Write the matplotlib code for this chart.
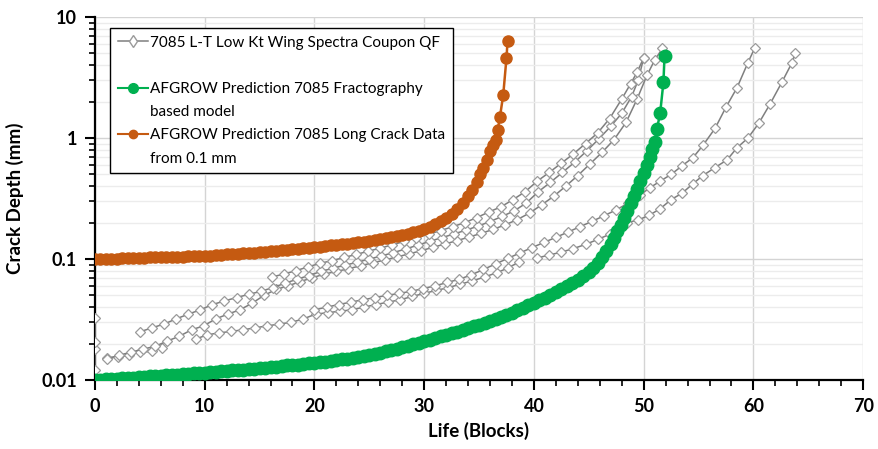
import matplotlib
matplotlib.use("Agg")
import matplotlib.pyplot as plt
from matplotlib.lines import Line2D
from matplotlib.ticker import MultipleLocator, LogLocator, FixedLocator, NullFormatter

plt.rcParams['font.family'] = ['Lato', 'DejaVu Sans']

# ---- coupon test data (QF), one list per coupon trace ----
cA_x = [4.1, 5.2, 6.3, 7.4, 8.5, 9.6, 10.7, 11.8, 12.9, 14.0, 15.1, 16.2, 17.3, 18.4, 19.5, 20.6,
        21.7, 22.8, 23.9, 25.0, 26.1, 27.2, 28.3, 29.4, 30.5, 31.6, 32.7, 33.8, 34.9, 36.0, 37.1,
        38.2, 39.3, 40.4, 41.5, 42.6, 43.7, 44.8, 45.9, 47.0, 48.0, 48.9, 49.5, 50.0]
cA_y = [0.025, 0.027, 0.029, 0.032, 0.035, 0.038, 0.042, 0.045, 0.048, 0.051, 0.054, 0.058, 0.063,
        0.068, 0.073, 0.079, 0.084, 0.089, 0.094, 0.100, 0.106, 0.113, 0.121, 0.130, 0.140, 0.150,
        0.161, 0.173, 0.187, 0.204, 0.225, 0.25, 0.29, 0.36, 0.43, 0.52, 0.63, 0.78, 0.98, 1.25,
        1.6, 2.2, 3.0, 4.6]

cB_x = [1.1, 2.2, 3.3, 4.4, 5.5, 6.6, 7.7, 8.8, 9.9, 11.0, 12.1, 13.2, 14.3, 15.4, 16.5, 17.6, 18.7,
        19.8, 20.9, 22.0, 23.1, 24.2, 25.3, 26.4, 27.5, 28.6, 29.7, 30.8, 31.9, 33.0, 34.1, 35.2,
        36.3, 37.4, 38.5, 39.6, 40.7, 41.8, 42.9, 44.0, 45.1, 46.2, 47.3, 48.4, 49.4, 50.3, 51.0, 51.7]
cB_y = [0.015, 0.016, 0.017, 0.018, 0.019, 0.021, 0.023, 0.026, 0.028, 0.032, 0.035, 0.038, 0.043,
        0.050, 0.056, 0.060, 0.065, 0.070, 0.075, 0.079, 0.083, 0.088, 0.093, 0.098, 0.104, 0.110,
        0.117, 0.125, 0.133, 0.142, 0.152, 0.163, 0.176, 0.192, 0.212, 0.24, 0.28, 0.33, 0.40, 0.49,
        0.61, 0.76, 0.97, 1.35, 2.1, 3.3, 4.4, 5.5]

cC_x = [16.1, 17.2, 18.3, 19.4, 20.5, 21.6, 22.7, 23.8, 24.9, 26.0, 27.1, 28.2, 29.3, 30.4, 31.5,
        32.6, 33.7, 34.8, 35.9, 37.0, 38.1, 39.2, 40.3, 41.4, 42.5, 43.6, 44.7, 45.8, 46.9, 48.0,
        48.8, 49.4, 50.0]
cC_y = [0.071, 0.075, 0.080, 0.086, 0.092, 0.097, 0.103, 0.109, 0.116, 0.123, 0.131, 0.140, 0.150,
        0.160, 0.172, 0.185, 0.20, 0.22, 0.245, 0.27, 0.31, 0.36, 0.44, 0.52, 0.62, 0.74, 0.90,
        1.10, 1.45, 2.1, 2.8, 3.5, 4.6]

cD_x = [1.1, 2.1, 3.1, 4.1, 5.2, 6.1]
cD_y = [0.0152, 0.0155, 0.016, 0.017, 0.0172, 0.0184]

cE_x = [9.2, 10.2, 11.3, 12.4, 13.5, 14.6, 15.7, 16.8, 17.9, 19.0, 20.1, 21.2, 22.3, 23.4, 24.5,
        25.6, 26.7, 27.8, 28.9, 30.0, 31.1, 32.2, 33.3, 34.4, 35.5, 36.6, 37.6, 38.6]
cE_y = [0.0218, 0.0236, 0.0245, 0.0252, 0.026, 0.027, 0.028, 0.029, 0.030, 0.032, 0.035, 0.036,
        0.037, 0.038, 0.040, 0.042, 0.044, 0.046, 0.049, 0.052, 0.055, 0.058, 0.062, 0.066, 0.071,
        0.077, 0.084, 0.094]

cF_x = [20.0, 21.1, 22.2, 23.3, 24.4, 25.5, 26.6, 27.7, 28.8, 29.9, 31.0, 32.1, 33.2, 34.3, 35.4,
        36.5, 37.6, 38.7, 39.8, 40.9, 42.0, 43.1, 44.2, 45.3, 46.4, 47.5, 48.6, 49.7, 50.6, 51.5,
        52.5, 53.5, 54.5, 55.4, 56.5, 57.5, 58.5, 59.5, 60.1]
cF_y = [0.038, 0.040, 0.042, 0.044, 0.046, 0.048, 0.050, 0.052, 0.054, 0.057, 0.060, 0.064, 0.068,
        0.074, 0.082, 0.091, 0.101, 0.112, 0.124, 0.137, 0.151, 0.167, 0.185, 0.205, 0.228, 0.255,
        0.29, 0.34, 0.39, 0.44, 0.50, 0.59, 0.69, 0.87, 1.2, 1.8, 2.6, 4.2, 5.5]

cG_x = [40.3, 41.4, 42.5, 43.6, 44.7, 45.8, 46.9]
cG_y = [0.102, 0.108, 0.114, 0.122, 0.132, 0.145, 0.16]

cH_x = [48.5, 49.5, 50.5, 51.5, 52.5, 53.5, 54.5, 55.4, 56.5, 57.6, 58.5, 59.5, 60.5, 61.5, 62.6,
        63.5, 63.8]
cH_y = [0.20, 0.21, 0.23, 0.26, 0.31, 0.35, 0.42, 0.49, 0.57, 0.66, 0.83, 1.0, 1.33, 1.9, 2.9,
        4.17, 5.0]

c0_x = [0, 0, 0, 0]
c0_y = [0.012, 0.018, 0.0206, 0.0325]

coupons = [(c0_x, c0_y), (cD_x, cD_y), (cB_x, cB_y), (cA_x, cA_y), (cC_x, cC_y),
           (cE_x, cE_y), (cF_x, cF_y), (cG_x, cG_y), (cH_x, cH_y)]

# ---- AFGROW prediction, fractography based model ----
frac_x = [0.0, 0.5, 1.0, 1.5, 2.0, 2.5, 3.0, 3.5, 4.0, 4.5, 5.0, 5.5, 6.0, 6.5, 7.0, 7.5, 8.0, 8.5,
          9.0, 9.5, 10.0, 10.5, 11.0, 11.5, 12.0, 12.5, 13.0, 13.5, 14.0, 14.5, 15.0, 15.5, 16.0,
          16.5, 17.0, 17.5, 18.0, 18.5, 19.0, 19.5, 20.0, 20.5, 21.0, 21.5, 22.0, 22.5, 23.0, 23.5,
          24.0, 24.5, 25.0, 25.5, 26.0, 26.5, 27.0, 27.5, 28.0, 28.5, 29.0, 29.5, 30.0, 30.5, 31.0,
          31.5, 32.0, 32.5, 33.0, 33.5, 34.0, 34.5, 35.0, 35.5, 36.0, 36.5, 37.0, 37.5, 38.0, 38.5,
          39.0, 39.5, 40.0, 40.5, 41.0, 41.5, 42.0, 42.5, 43.0, 43.5, 44.0, 44.5, 45.0, 45.4, 45.8,
          46.2, 46.6, 47.0, 47.3, 47.6, 47.9, 48.2, 48.5, 48.8, 49.1, 49.4, 49.7, 50.0, 50.3, 50.6,
          50.8, 51.0, 51.2, 51.5, 51.8, 51.9]
frac_y = [0.0100, 0.0100, 0.0101, 0.0102, 0.0102, 0.0103, 0.0104, 0.0104, 0.0105, 0.0106, 0.0107,
          0.0107, 0.0108, 0.0109, 0.0110, 0.0111, 0.0112, 0.0113, 0.0114, 0.0114, 0.0115, 0.0116,
          0.0117, 0.0118, 0.0119, 0.0120, 0.0121, 0.0122, 0.0123, 0.0124, 0.0125, 0.0126, 0.0128,
          0.0129, 0.0130, 0.0132, 0.0133, 0.0134, 0.0136, 0.0137, 0.0138, 0.0140, 0.0142, 0.0144,
          0.0146, 0.0148, 0.0150, 0.0153, 0.0155, 0.0158, 0.0160, 0.0164, 0.0168, 0.0172, 0.0177,
          0.0182, 0.0187, 0.0192, 0.0198, 0.0204, 0.0210, 0.0216, 0.0223, 0.0230, 0.0236, 0.0243,
          0.0250, 0.0259, 0.0268, 0.0277, 0.0286, 0.0295, 0.0305, 0.0318, 0.0331, 0.0345, 0.0360,
          0.0378, 0.0396, 0.0415, 0.0435, 0.0457, 0.0480, 0.0505, 0.0532, 0.0562, 0.0595, 0.0632,
          0.0672, 0.0720, 0.0780, 0.0850, 0.0930, 0.103, 0.116, 0.132, 0.150, 0.170, 0.192, 0.218,
          0.25, 0.29, 0.33, 0.38, 0.44, 0.51, 0.60, 0.70, 0.81, 0.93, 1.18, 1.6, 2.9, 4.75]

# ---- AFGROW prediction, long crack data from 0.1 mm ----
long_x = [0.0, 0.5, 1.0, 1.5, 2.0, 2.5, 3.0, 3.5, 4.0, 4.5, 5.0, 5.5, 6.0, 6.5, 7.0, 7.5, 8.0, 8.5,
          9.0, 9.5, 10.0, 10.5, 11.0, 11.5, 12.0, 12.5, 13.0, 13.5, 14.0, 14.5, 15.0, 15.5, 16.0,
          16.5, 17.0, 17.5, 18.0, 18.5, 19.0, 19.5, 20.0, 20.5, 21.0, 21.5, 22.0, 22.5, 23.0, 23.5,
          24.0, 24.5, 25.0, 25.5, 26.0, 26.5, 27.0, 27.5, 28.0, 28.5, 29.0, 29.5, 30.0, 30.5, 31.0,
          31.5, 32.0, 32.5, 33.0, 33.5, 34.0, 34.4, 34.8, 35.1, 35.4, 35.7, 36.0, 36.3, 36.5, 36.7,
          36.9, 37.2, 37.5, 37.6]
long_y = [0.1000, 0.1002, 0.1004, 0.1006, 0.1008, 0.1011, 0.1014, 0.1017, 0.1020, 0.1025, 0.1030,
          0.1033, 0.1036, 0.1039, 0.1042, 0.1045, 0.1048, 0.1051, 0.1054, 0.1057, 0.1060, 0.1067,
          0.1074, 0.1082, 0.1090, 0.1098, 0.1106, 0.1114, 0.1122, 0.1131, 0.1140, 0.1150, 0.1160,
          0.1170, 0.1181, 0.1192, 0.1203, 0.1215, 0.1227, 0.1238, 0.1250, 0.1264, 0.1279, 0.1294,
          0.1309, 0.1325, 0.1342, 0.1359, 0.1376, 0.1393, 0.1410, 0.1435, 0.1462, 0.1490, 0.1520,
          0.1550, 0.1580, 0.1625, 0.1670, 0.1720, 0.1770, 0.1850, 0.1940, 0.2050, 0.2180, 0.2350,
          0.2600, 0.2900, 0.3300, 0.37, 0.43, 0.50, 0.57, 0.66, 0.78, 0.88, 0.96, 1.17, 1.49, 2.26,
          4.6, 6.4]

gray = '#7f7f7f'
green = '#00b050'
orange = '#c55a11'

fig, ax = plt.subplots(figsize=(8.79, 4.49), dpi=100)
fig.subplots_adjust(left=0.108, right=0.982, bottom=0.1537, top=0.962)

for cx, cy in coupons:
    ax.plot(cx, cy, '-', color=gray, lw=1.1, marker='D', ms=5, mfc='white',
            mec='#9a9a9a', mew=0.9, zorder=3)
ax.plot(frac_x, frac_y, '-', color=green, lw=1.8, marker='o', ms=9, mec=green, zorder=4)
ax.plot(long_x, long_y, '-', color=orange, lw=1.8, marker='o', ms=8, mec=orange, zorder=5)

ax.set_yscale('log')
ax.set_xlim(0, 70)
ax.set_ylim(0.01, 10)

ax.xaxis.set_major_locator(MultipleLocator(10))
ax.xaxis.set_minor_locator(MultipleLocator(2))
ax.yaxis.set_major_locator(FixedLocator([0.01, 0.1, 1, 10]))
ax.yaxis.set_minor_locator(LogLocator(base=10, subs=range(2, 10)))
ax.yaxis.set_minor_formatter(NullFormatter())
ax.set_yticklabels(['0.01', '0.1', '1', '10'])

ax.grid(True, which='major', color='#d4d4d4', lw=1.0)
ax.grid(True, which='minor', axis='y', color='#ececec', lw=1.0)
ax.set_axisbelow(True)

for s in ['top', 'right']:
    ax.spines[s].set_visible(False)
for s in ['left', 'bottom']:
    ax.spines[s].set_linewidth(1.6)
    ax.spines[s].set_color('black')
ax.tick_params(which='major', length=7, width=1.5, labelsize=13, pad=6)
ax.tick_params(which='minor', length=4, width=1.2)
for lab in ax.get_xticklabels() + ax.get_yticklabels():
    lab.set_fontweight('bold')

ax.set_xlabel('Life (Blocks)', fontsize=13.5, fontweight='bold', labelpad=5)
ax.set_ylabel('Crack Depth (mm)', fontsize=13.5, fontweight='bold', labelpad=12)

# legend: one row per text line, continuation rows have no handle
blank = Line2D([], [], linestyle='none')
handles = [
    Line2D([], [], color=gray, lw=1.1, marker='d', ms=6, mfc='white', mec='#9a9a9a'),
    blank,
    Line2D([], [], color=green, lw=1.5, marker='o', ms=7),
    blank,
    Line2D([], [], color=orange, lw=1.5, marker='o', ms=6),
    blank,
]
labels = ['7085 L-T Low Kt Wing Spectra Coupon QF', ' ',
          'AFGROW Prediction 7085 Fractography', 'based model',
          'AFGROW Prediction 7085 Long Crack Data', 'from 0.1 mm']
leg = ax.legend(handles, labels, loc='upper left', bbox_to_anchor=(0.0195, 0.9697),
                fontsize=11, labelspacing=0.6, handlelength=2.0, handletextpad=0.15,
                borderpad=0.5, borderaxespad=0, fancybox=False, framealpha=1,
                edgecolor='black')
leg.get_frame().set_linewidth(1.0)

fig.savefig('out.png', dpi=100)
